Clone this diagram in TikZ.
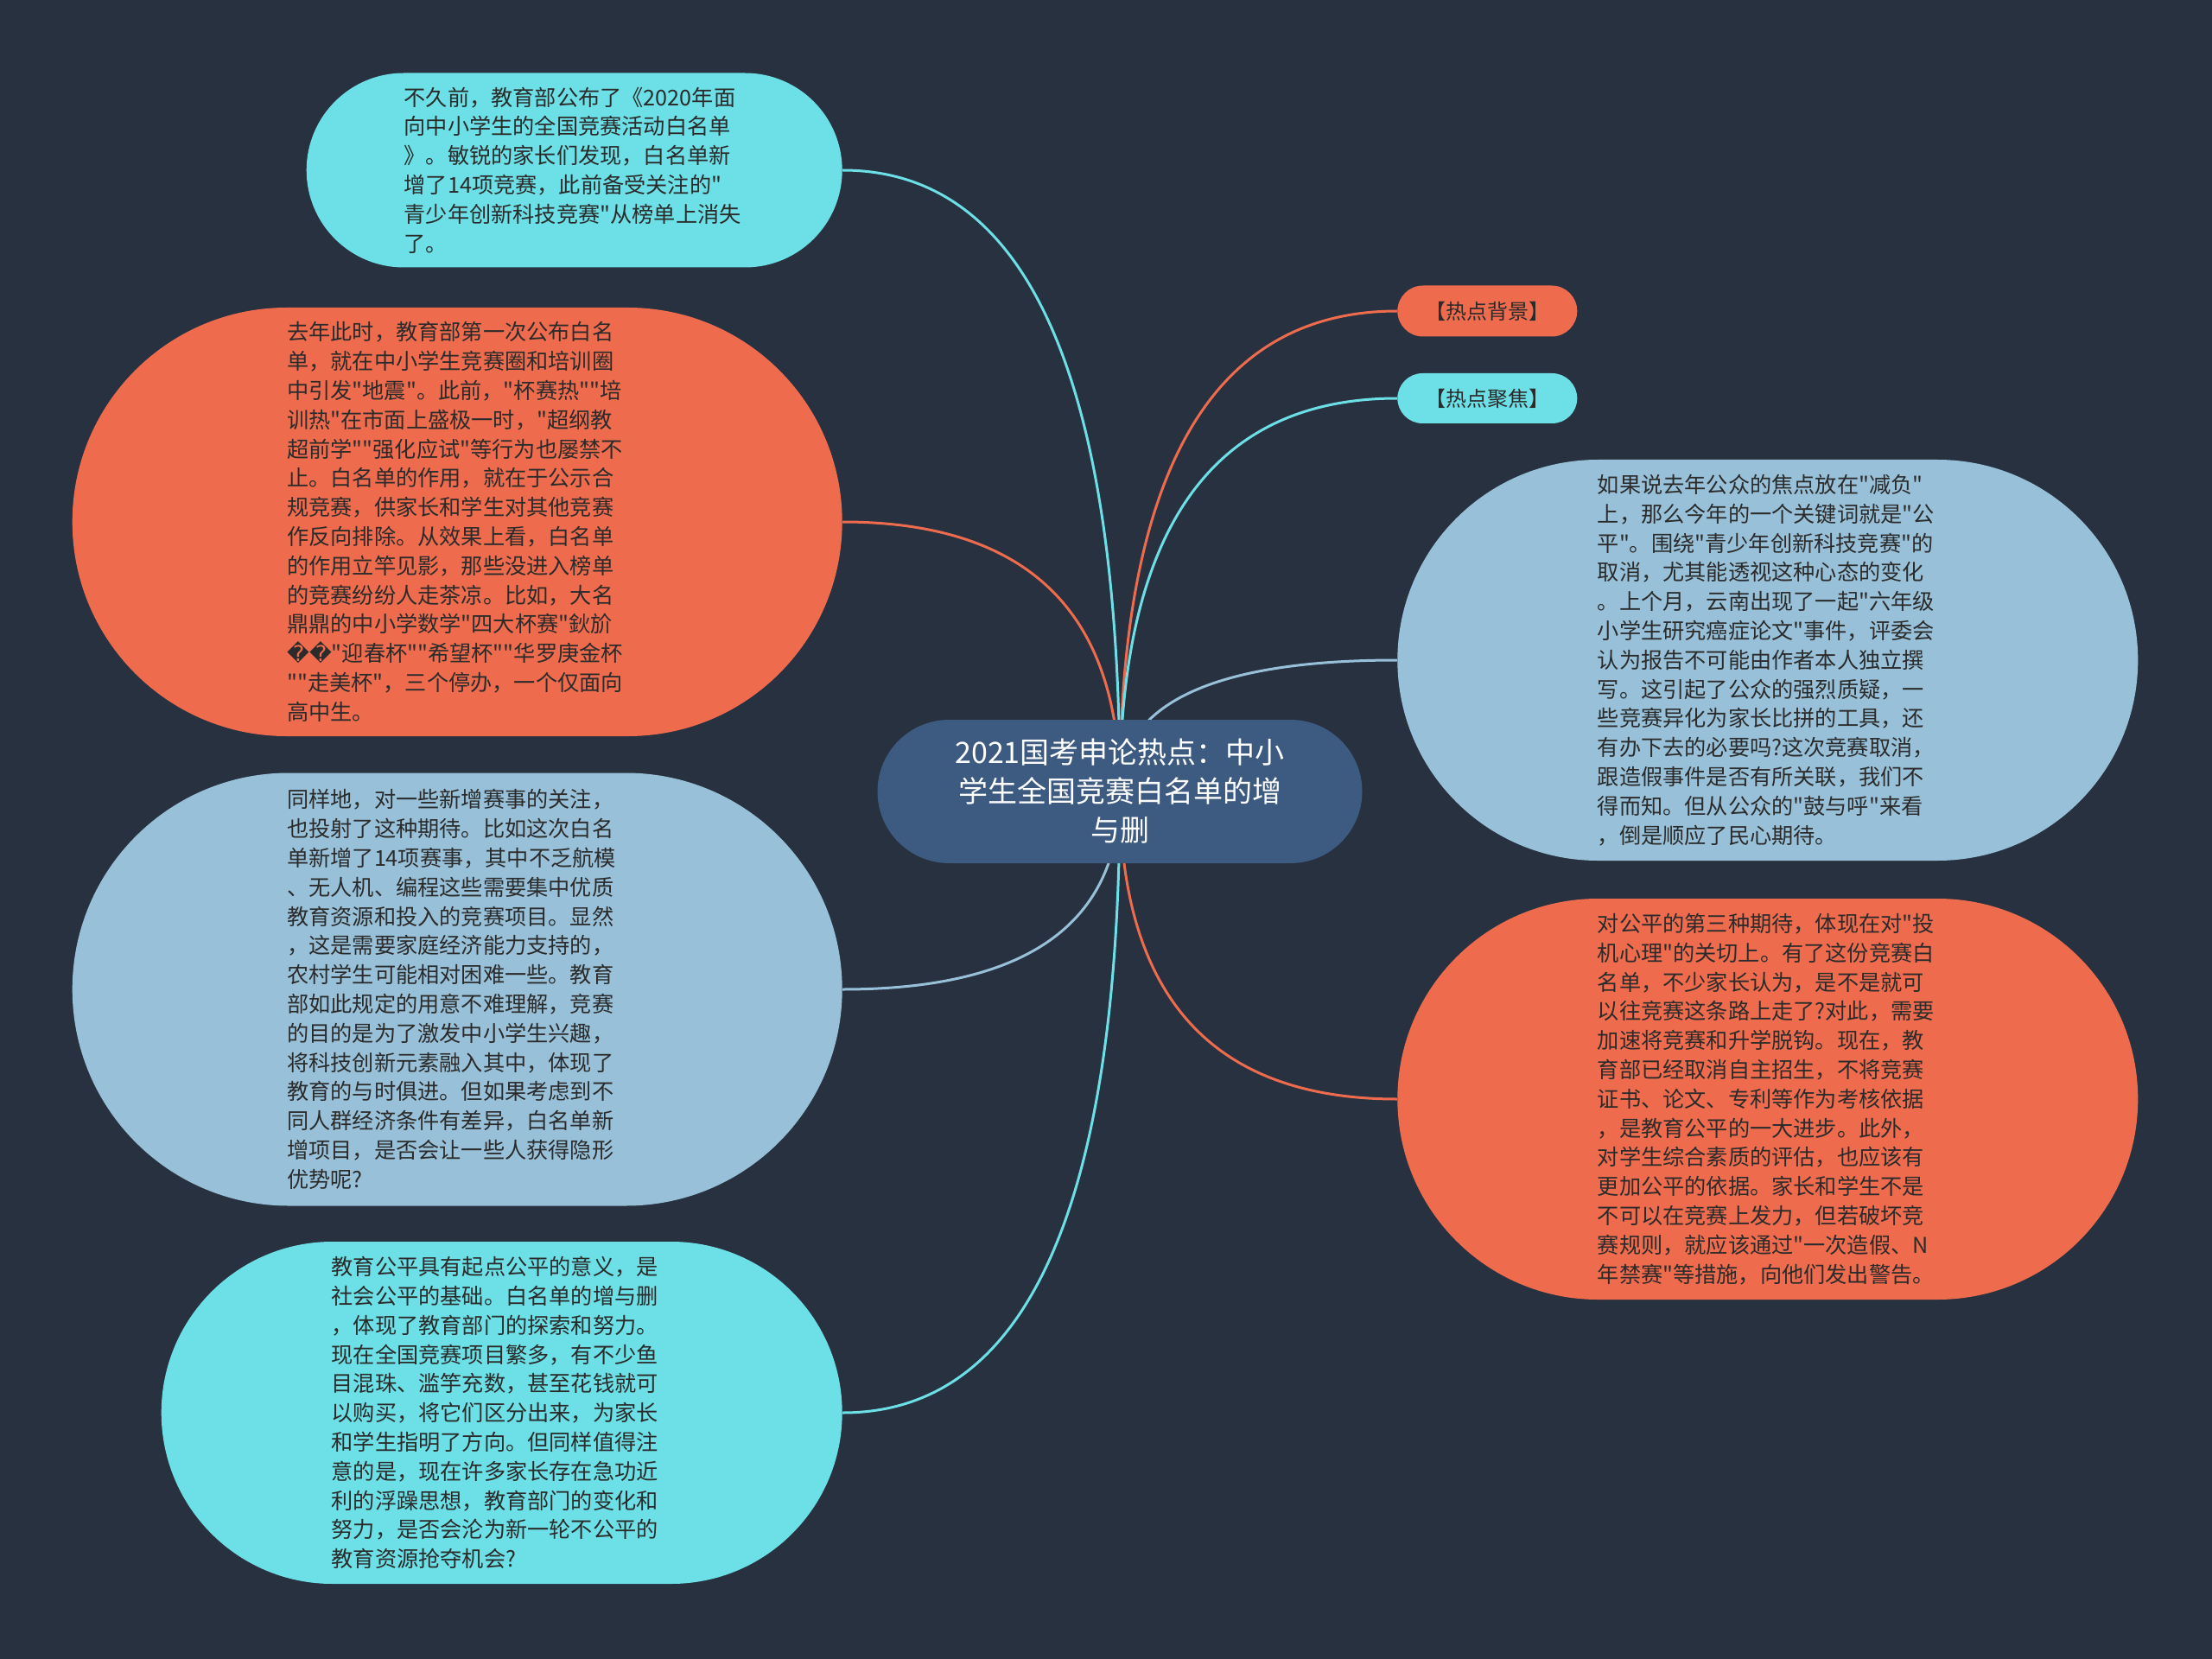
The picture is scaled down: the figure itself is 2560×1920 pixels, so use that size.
\documentclass[tikz,border=0pt]{standalone}
\usepackage{fontspec}
\setmainfont{Noto Sans CJK SC}[Ligatures=TeXOff]
\newfontfamily\dejavu{DejaVu Sans}
\usetikzlibrary{positioning, calc, backgrounds}

\definecolor{bgnavy}{HTML}{283140}
\definecolor{rootblue}{HTML}{3D5A80}
\definecolor{cyanleaf}{HTML}{6CE0E6}
\definecolor{orangeleaf}{HTML}{EE6C4D}
\definecolor{blueleaf}{HTML}{98C1D9}
\definecolor{leaftext}{HTML}{2B2B2B}

\newcommand{\badchar}{{\dejavu\char"FFFD}}

\begin{document}
\begin{tikzpicture}[
  x=0.5pt, y=-0.5pt,
  every node/.style={align=left},
  pill/.style 2 args={rectangle, minimum width=#1, minimum height=#2, rounded corners=#2/2},
  leaf/.style={text width=197pt, text=leaftext, font=\fontsize{12.6}{16.9}\selectfont},
  tagbox/.style={align=center, text=leaftext, font=\fontsize{12}{14}\selectfont},
  branch/.style={line width=1.5pt, to path={.. controls ($(\tikztostart)!2/3!(\tikztostart |- \tikztotarget)$) and ($(\tikztotarget)!2/3!(\tikztostart |- \tikztotarget)$) .. (\tikztotarget)}},
]
\useasboundingbox (0,0) rectangle (2560,1920);

% central topic
\node [pill={280.5pt}{83pt}, fill=rootblue, text=white, align=center, font=\fontsize{17}{22.5}\selectfont] (root) at (1296,916) {2021国考申论热点：中小\\学生全国竞赛白名单的增\\与删};

% left side
\node [pill={310pt}{112.5pt}, leaf, fill=cyanleaf] (news) [left=20pt of root, yshift=359.5pt] {不久前，教育部公布了《2020年面\\向中小学生的全国竞赛活动白名单\\》。敏锐的家长们发现，白名单新\\增了14项竞赛，此前备受关注的"\\青少年创新科技竞赛"从榜单上消失\\了。};

\node [pill={445.5pt}{248pt}, leaf, fill=orangeleaf] (lastyear) [left=20pt of root, yshift=156pt] {去年此时，教育部第一次公布白名\\单，就在中小学生竞赛圈和培训圈\\中引发"地震"。此前，"杯赛热""培\\训热"在市面上盛极一时，"超纲教\\超前学""强化应试"等行为也屡禁不\\止。白名单的作用，就在于公示合\\规竞赛，供家长和学生对其他竞赛\\作反向排除。从效果上看，白名单\\的作用立竿见影，那些没进入榜单\\的竞赛纷纷人走茶凉。比如，大名\\鼎鼎的中小学数学"四大杯赛"鈥斺\\\badchar\badchar"迎春杯""希望杯""华罗庚金杯\\""走美杯"，三个停办，一个仅面向\\高中生。};

\node [pill={445.5pt}{250.5pt}, leaf, fill=blueleaf] (newitems) [left=20pt of root, yshift=-114.5pt] {同样地，对一些新增赛事的关注，\\也投射了这种期待。比如这次白名\\单新增了14项赛事，其中不乏航模\\、无人机、编程这些需要集中优质\\教育资源和投入的竞赛项目。显然\\，这是需要家庭经济能力支持的，\\农村学生可能相对困难一些。教育\\部如此规定的用意不难理解，竞赛\\的目的是为了激发中小学生兴趣，\\将科技创新元素融入其中，体现了\\教育的与时俱进。但如果考虑到不\\同人群经济条件有差异，白名单新\\增项目，是否会让一些人获得隐形\\优势呢?};

\node [pill={394pt}{198pt}, leaf, fill=cyanleaf] (equity) [left=20pt of root, yshift=-359.5pt] {教育公平具有起点公平的意义，是\\社会公平的基础。白名单的增与删\\，体现了教育部门的探索和努力。\\现在全国竞赛项目繁多，有不少鱼\\目混珠、滥竽充数，甚至花钱就可\\以购买，将它们区分出来，为家长\\和学生指明了方向。但同样值得注\\意的是，现在许多家长存在急功近\\利的浮躁思想，教育部门的变化和\\努力，是否会沦为新一轮不公平的\\教育资源抢夺机会?};

% right side
\node [pill={104pt}{29.5pt}, tagbox, fill=orangeleaf] (bgtag) [right=20pt of root, yshift=278pt] {【热点背景】};
\node [pill={104pt}{29pt}, tagbox, fill=cyanleaf] (focustag) [right=20pt of root, yshift=227.5pt] {【热点聚焦】};

\node [pill={428.5pt}{232pt}, leaf, fill=blueleaf] (keyword) [right=20pt of root, yshift=76pt] {如果说去年公众的焦点放在"减负"\\上，那么今年的一个关键词就是"公\\平"。围绕"青少年创新科技竞赛"的\\取消，尤其能透视这种心态的变化\\。上个月，云南出现了一起"六年级\\小学生研究癌症论文"事件，评委会\\认为报告不可能由作者本人独立撰\\写。这引起了公众的强烈质疑，一\\些竞赛异化为家长比拼的工具，还\\有办下去的必要吗?这次竞赛取消，\\跟造假事件是否有所关联，我们不\\得而知。但从公众的"鼓与呼"来看\\，倒是顺应了民心期待。};

\node [pill={428.5pt}{232pt}, leaf, fill=orangeleaf] (thirdhope) [right=20pt of root, yshift=-178pt] {对公平的第三种期待，体现在对"投\\机心理"的关切上。有了这份竞赛白\\名单，不少家长认为，是不是就可\\以往竞赛这条路上走了?对此，需要\\加速将竞赛和升学脱钩。现在，教\\育部已经取消自主招生，不将竞赛\\证书、论文、专利等作为考核依据\\，是教育公平的一大进步。此外，\\对学生综合素质的评估，也应该有\\更加公平的依据。家长和学生不是\\不可以在竞赛上发力，但若破坏竞\\赛规则，就应该通过"一次造假、N\\年禁赛"等措施，向他们发出警告。};

% branches, behind the nodes
\begin{scope}[on background layer]
\fill[bgnavy] (0,0) rectangle (2560,1920);
\draw[branch, cyanleaf] (root.center) to (news.east);
\draw[branch, orangeleaf] (root.center) to (lastyear.east);
\draw[branch, blueleaf] (root.center) to (newitems.east);
\draw[branch, cyanleaf] (root.center) to (equity.east);
\draw[branch, orangeleaf] (root.center) to (bgtag.west);
\draw[branch, cyanleaf] (root.center) to (focustag.west);
\draw[branch, blueleaf] (root.center) to (keyword.west);
\draw[branch, orangeleaf] (root.center) to (thirdhope.west);
\end{scope}

\end{tikzpicture}
\end{document}
